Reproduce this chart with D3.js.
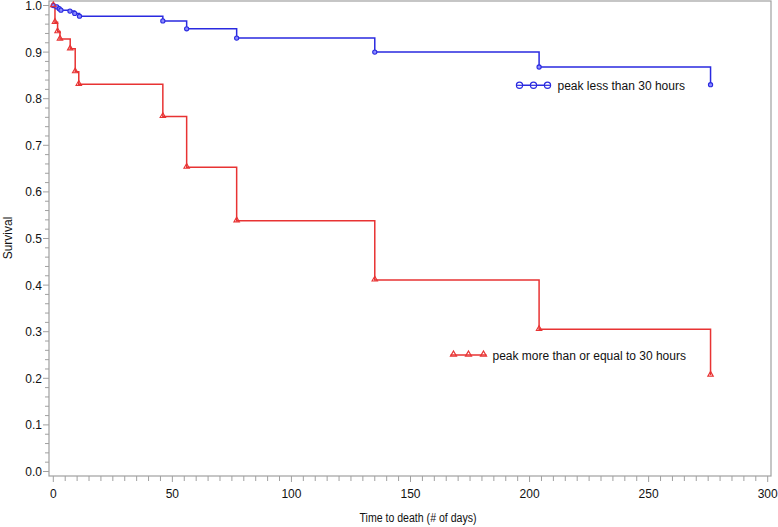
<!DOCTYPE html>
<html><head><meta charset="utf-8">
<script src="https://cdn.jsdelivr.net/npm/d3@7"></script>
<style>body{margin:0;background:#fff}svg{display:block}</style>
</head><body>
<svg id="c" width="778" height="527"></svg>
<script>
// ---- data ----
const lowTimes = [0, 1.5, 2.5, 3.2, 7, 9, 11, 46, 56, 77, 135, 204, 276];
const lowSurv  = [1.0, 0.997, 0.993, 0.99, 0.988, 0.983, 0.977, 0.967, 0.95, 0.93, 0.90, 0.868, 0.83];
const highTimes = [0, 0.7, 1.8, 2.8, 7.1, 9.2, 10.7, 46, 56, 77, 135, 204, 276];
const highSurv  = [1.0, 0.964, 0.944, 0.928, 0.907, 0.858, 0.831, 0.762, 0.653, 0.538, 0.411, 0.305, 0.207];
const xTicks = [0, 50, 100, 150, 200, 250, 300];
const yTicks = [0.0, 0.1, 0.2, 0.3, 0.4, 0.5, 0.6, 0.7, 0.8, 0.9, 1.0];
const seriesNames = ["peak less than 30 hours", "peak more than or equal to 30 hours"];

const svg = d3.select("#c");
const font = "'Liberation Sans', Arial, sans-serif";
const grey = "#a0a0a0";
const blue = "#2a2ae0", red = "#e83333";

const frame = {l: 49, r: 771, t: 1, b: 476};
const x = d3.scaleLinear().domain([0, 300]).range([53.3, 767.7]);
const y = d3.scaleLinear().domain([0, 1]).range([471.5, 5.5]);

// frame
svg.append("rect").attr("x", frame.l).attr("y", frame.t)
  .attr("width", frame.r - frame.l).attr("height", frame.b - frame.t)
  .attr("fill", "none").attr("stroke", grey).attr("stroke-width", 1.2);

// x axis ticks
const xMinor = d3.range(0, 301, 5);
svg.append("g").selectAll("line").data(xMinor).join("line")
  .attr("x1", d => x(d)).attr("x2", d => x(d))
  .attr("y1", frame.b).attr("y2", d => frame.b + (d % 50 === 0 ? 6 : 5))
  .attr("stroke", grey).attr("stroke-width", 1);
svg.append("g").selectAll("text").data(xTicks).join("text")
  .attr("x", d => x(d)).attr("y", 497.5)
  .attr("text-anchor", "middle").attr("font-family", font).attr("font-size", 12)
  .attr("fill", "#111").text(d => d);

// y axis ticks
const yMinor = d3.range(0, 51).map(i => i * 0.02);
svg.append("g").selectAll("line").data(yMinor).join("line")
  .attr("y1", d => y(d)).attr("y2", d => y(d))
  .attr("x1", frame.l).attr("x2", (d, i) => frame.l - (i % 5 === 0 ? 6 : 4))
  .attr("stroke", grey).attr("stroke-width", 1);
svg.append("g").selectAll("text").data(yTicks).join("text")
  .attr("x", 42).attr("y", d => y(d) + 4.5)
  .attr("text-anchor", "end").attr("font-family", font).attr("font-size", 12)
  .attr("fill", "#111").text(d => d.toFixed(1));

// axis titles
svg.append("text").attr("x", 418).attr("y", 522)
  .attr("text-anchor", "middle").attr("font-family", font).attr("font-size", 12)
  .attr("fill", "#111").attr("textLength", 117).attr("lengthAdjust", "spacingAndGlyphs")
  .text("Time to death (# of days)");
svg.append("text").attr("transform", "translate(12,238) rotate(-90)")
  .attr("text-anchor", "middle").attr("font-family", font).attr("font-size", 12)
  .attr("fill", "#111").text("Survival");

// series
const line = d3.line().x(d => x(d[0])).y(d => y(d[1])).curve(d3.curveStepAfter);
const low = lowTimes.map((t, i) => [t, lowSurv[i]]);
const high = highTimes.map((t, i) => [t, highSurv[i]]);

svg.append("path").datum(low).attr("d", line).attr("fill", "none")
  .attr("stroke", blue).attr("stroke-width", 1.5);
svg.append("path").datum(high).attr("d", line).attr("fill", "none")
  .attr("stroke", red).attr("stroke-width", 1.5);

svg.append("g").selectAll("circle").data(low).join("circle")
  .attr("cx", d => x(d[0])).attr("cy", d => y(d[1])).attr("r", 2.1)
  .attr("fill", "#8a8aff").attr("stroke", blue).attr("stroke-width", 1.1);

const tri = d3.symbol().type(d3.symbolTriangle).size(13);
svg.append("g").selectAll("path").data(high).join("path")
  .attr("transform", d => `translate(${x(d[0])},${y(d[1]) - 0.5})`)
  .attr("d", tri()).attr("fill", "none").attr("stroke", red).attr("stroke-width", 1.1);

// legends
function legend(x0, x1, yy, tx, color, marker, label) {
  const g = svg.append("g");
  g.append("line").attr("x1", x0).attr("x2", x1).attr("y1", yy).attr("y2", yy)
    .attr("stroke", color).attr("stroke-width", 1.5);
  const xs = [x0 + 3, (x0 + x1) / 2, x1 - 3];
  if (marker === "circle") {
    g.selectAll("circle").data(xs).join("circle").attr("cx", d => d).attr("cy", yy)
      .attr("r", 3.1).attr("fill", "#fff").attr("stroke", color).attr("stroke-width", 1.2);
    g.selectAll("line.m").data(xs).join("line").attr("class", "m")
      .attr("x1", d => d - 3.1).attr("x2", d => d + 3.1).attr("y1", yy).attr("y2", yy)
      .attr("stroke", color).attr("stroke-width", 1.2);
  } else {
    g.selectAll("path").data(xs).join("path")
      .attr("transform", d => `translate(${d},${yy - 0.5})`)
      .attr("d", d3.symbol().type(d3.symbolTriangle).size(16)())
      .attr("fill", "none").attr("stroke", color).attr("stroke-width", 1.2);
  }
  g.append("text").attr("x", tx).attr("y", yy + 4.5).attr("font-family", font)
    .attr("font-size", 12).attr("fill", "#111").text(label);
}
legend(516.5, 550.5, 85.3, 557.5, blue, "circle", seriesNames[0]);
legend(450.5, 486.5, 355, 492.5, red, "tri", seriesNames[1]);
</script>
</body></html>
